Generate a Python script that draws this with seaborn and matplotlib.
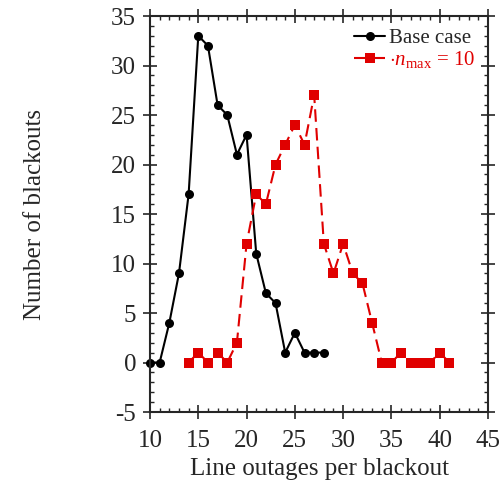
import numpy as np
import pandas as pd
import matplotlib
matplotlib.use("Agg")
import matplotlib.pyplot as plt
from matplotlib.ticker import MultipleLocator
import seaborn as sns

# blackout size distribution, base case
base_x = [10, 11, 12, 13, 14, 15, 16, 17, 18, 19, 20, 21, 22, 23, 24, 25, 26, 27, 28]
base_y = [0, 0, 4, 9, 17, 33, 32, 26, 25, 21, 23, 11, 7, 6, 1, 3, 1, 1, 1]

# n_max = 10
nmax_x = [14, 15, 16, 17, 18, 19, 20, 21, 22, 23, 24, 25, 26, 27,
          28, 29, 30, 31, 32, 33, 34, 35, 36, 37, 38, 39, 40, 41]
nmax_y = [0, 1, 0, 1, 0, 2, 12, 17, 16, 20, 22, 24, 22, 27,
          12, 9, 12, 9, 8, 4, 0, 0, 1, 0, 0, 0, 1, 0]

sns.set_style("ticks")
plt.rcParams['font.family'] = ['Liberation Serif', 'DejaVu Serif']
plt.rcParams['mathtext.fontset'] = 'custom'
plt.rcParams['mathtext.rm'] = 'Liberation Serif'
plt.rcParams['mathtext.it'] = 'Liberation Serif:italic'
plt.rcParams['axes.unicode_minus'] = False

df_base = pd.DataFrame({'x': base_x, 'y': base_y})
df_nmax = pd.DataFrame({'x': nmax_x, 'y': nmax_y})

fig = plt.figure(figsize=(5.01, 4.86), dpi=100)
ax = fig.add_axes([150/501, 1 - 412/486, 338/501, 396/486])

sns.lineplot(data=df_base, x='x', y='y', ax=ax, color='black', marker='o',
             markersize=6.5, markeredgewidth=0, linewidth=1.5, label='Base case',
             clip_on=False)
sns.lineplot(data=df_nmax, x='x', y='y', ax=ax, color='#e00000', marker='s',
             markersize=7, markeredgewidth=0, linewidth=1.5, dashes=(6, 3),
             label=r'$\cdot n_{\rm max}$ = 10')

ax.set_xlim(10, 45)
ax.set_ylim(-5, 35)
ax.xaxis.set_major_locator(MultipleLocator(5))
ax.xaxis.set_minor_locator(MultipleLocator(1))
ax.yaxis.set_major_locator(MultipleLocator(5))
ax.yaxis.set_minor_locator(MultipleLocator(1))
ax.tick_params(which='major', direction='inout', length=10, width=1.2,
               top=True, right=True, labelsize=18)
ax.tick_params(axis='x', which='major', pad=8)
ax.tick_params(axis='y', which='major', pad=5)
ax.tick_params(which='minor', direction='in', length=3, width=1,
               top=True, right=True)
for s in ax.spines.values():
    s.set_linewidth(1.5)

ax.set_xlabel('Line outages per blackout', fontsize=18, labelpad=4)
ax.set_ylabel('Number of blackouts', fontsize=18, labelpad=47)

leg = ax.legend(loc='upper right', frameon=False, fontsize=15,
                handlelength=1.5, handletextpad=0.2, labelspacing=0.05,
                borderaxespad=0.2)
leg.get_texts()[1].set_color('#e00000')

fig.savefig('out.png', dpi=100)
